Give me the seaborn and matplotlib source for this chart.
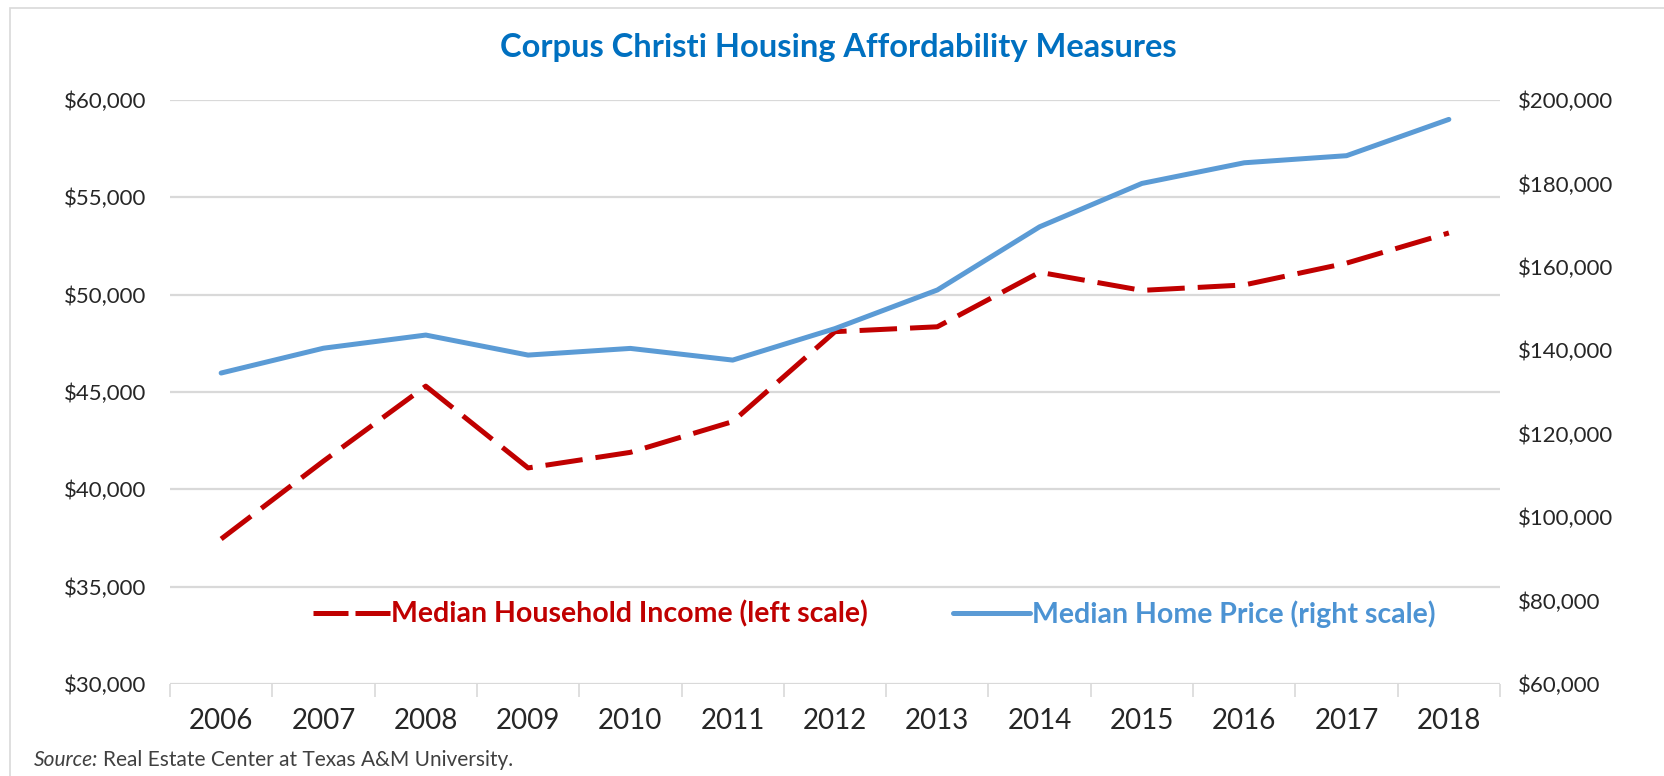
import matplotlib
matplotlib.use("Agg")
import matplotlib.pyplot as plt
import seaborn as sns
import numpy as np
import pandas as pd
from matplotlib.lines import Line2D
from matplotlib.patches import Rectangle
from matplotlib.ticker import FuncFormatter, FixedLocator

years = ["2006", "2007", "2008", "2009", "2010", "2011", "2012",
         "2013", "2014", "2015", "2016", "2017", "2018"]
income = [37450, 41450, 45300, 41100, 41900, 43480, 48100,
          48350, 51150, 50220, 50500, 51620, 53170]
price = [134550, 140500, 143650, 138850, 140450, 137650, 145200,
         154450, 169600, 180000, 184950, 186650, 195350]
left_ticks = [30000, 35000, 40000, 45000, 50000, 55000, 60000]
right_ticks = [60000, 80000, 100000, 120000, 140000, 160000, 180000, 200000]

title = "Corpus Christi Housing Affordability Measures"
label_income = "Median Household Income (left scale)"
label_price = "Median Home Price (right scale)"

RED = "#C00000"
BLUE = "#5B9BD5"
GRID = "#D9D9D9"
TXT = "#262626"

sns.set_theme(style="white")
plt.rcParams["font.family"] = ["Lato", "DejaVu Sans"]

df = pd.DataFrame({"pos": np.arange(len(years)), "year": years,
                   "income": income, "price": price})

fig = plt.figure(figsize=(16.64, 7.76), dpi=100)
ax = fig.add_axes([170/1664, 1-684/776, 1330/1664, 584/776])
ax2 = ax.twinx()

sns.lineplot(data=df, x="pos", y="income", ax=ax, color=RED, lw=3.6,
             dashes=False, zorder=3)
ax.lines[-1].set_dashes((7.5, 2.6))
ax.lines[-1].set_solid_capstyle("butt")
sns.lineplot(data=df, x="pos", y="price", ax=ax2, color=BLUE, lw=3.6, zorder=3)

ax.set_xlim(-0.5, len(years) - 0.5)
ax.set_ylim(30000, 60000)
ax2.set_ylim(60000, 200000)
ax.set_yticks(left_ticks)
ax2.set_yticks(right_ticks)
fmt = FuncFormatter(lambda v, p: f"${v:,.0f}")
ax.yaxis.set_major_formatter(fmt)
ax2.yaxis.set_major_formatter(fmt)

ax.set_xticks(df["pos"])
ax.set_xticklabels(years)
ax.xaxis.set_minor_locator(FixedLocator(np.arange(-0.5, len(years), 1.0)))
ax.tick_params(axis="x", which="major", length=0, pad=17, labelsize=20, labelcolor=TXT)
ax.tick_params(axis="x", which="minor", length=9, width=1.2, color=GRID, bottom=True)
ax.tick_params(axis="y", length=0, pad=17, labelsize=16, labelcolor=TXT)
ax2.tick_params(axis="y", length=0, pad=13, labelsize=16, labelcolor=TXT)

ax.set_xlabel("")
ax.set_ylabel("")
ax2.set_ylabel("")
ax.yaxis.grid(True, color=GRID, lw=1.6)
ax.set_axisbelow(True)
for a in (ax, ax2):
    for s in ("top", "left", "right", "bottom"):
        a.spines[s].set_visible(False)
ax2.grid(False)

handles = [Line2D([], [], color=RED, lw=3.6, dashes=(7.0, 1.4), solid_capstyle="butt"),
           Line2D([], [], color=BLUE, lw=3.6)]
leg = ax.legend(handles, [label_income, label_price], ncol=2, frameon=False,
                loc="center", bbox_to_anchor=(874/1664, 1-614/776),
                bbox_transform=fig.transFigure,
                prop={"size": 20.5, "weight": "bold"}, handlelength=2.7,
                handletextpad=0.05, columnspacing=3.0)
for t, c in zip(leg.get_texts(), [RED, "#4C93D3"]):
    t.set_color(c)

fig.text(838/1664, 1-48/776, title, ha="center", va="center", fontsize=23.5,
         fontweight="bold", color="#0070C0")
src = fig.text(34/1664, 1-760/776, "Source:", ha="left", va="center", fontsize=15,
               style="italic", color="#404040")
fig.canvas.draw()
bb = src.get_window_extent()
fig.text((bb.x1 + 5) / 1664, 1-760/776, "Real Estate Center at Texas A&M University.",
         ha="left", va="center", fontsize=15, color="#404040")

fig.patches.append(Rectangle((10/1664, -0.01), 1.2, 1-8/776 + 0.01,
                             transform=fig.transFigure, fill=False,
                             edgecolor="#D9D9D9", lw=1.2))

fig.savefig("out.png", dpi=100)
